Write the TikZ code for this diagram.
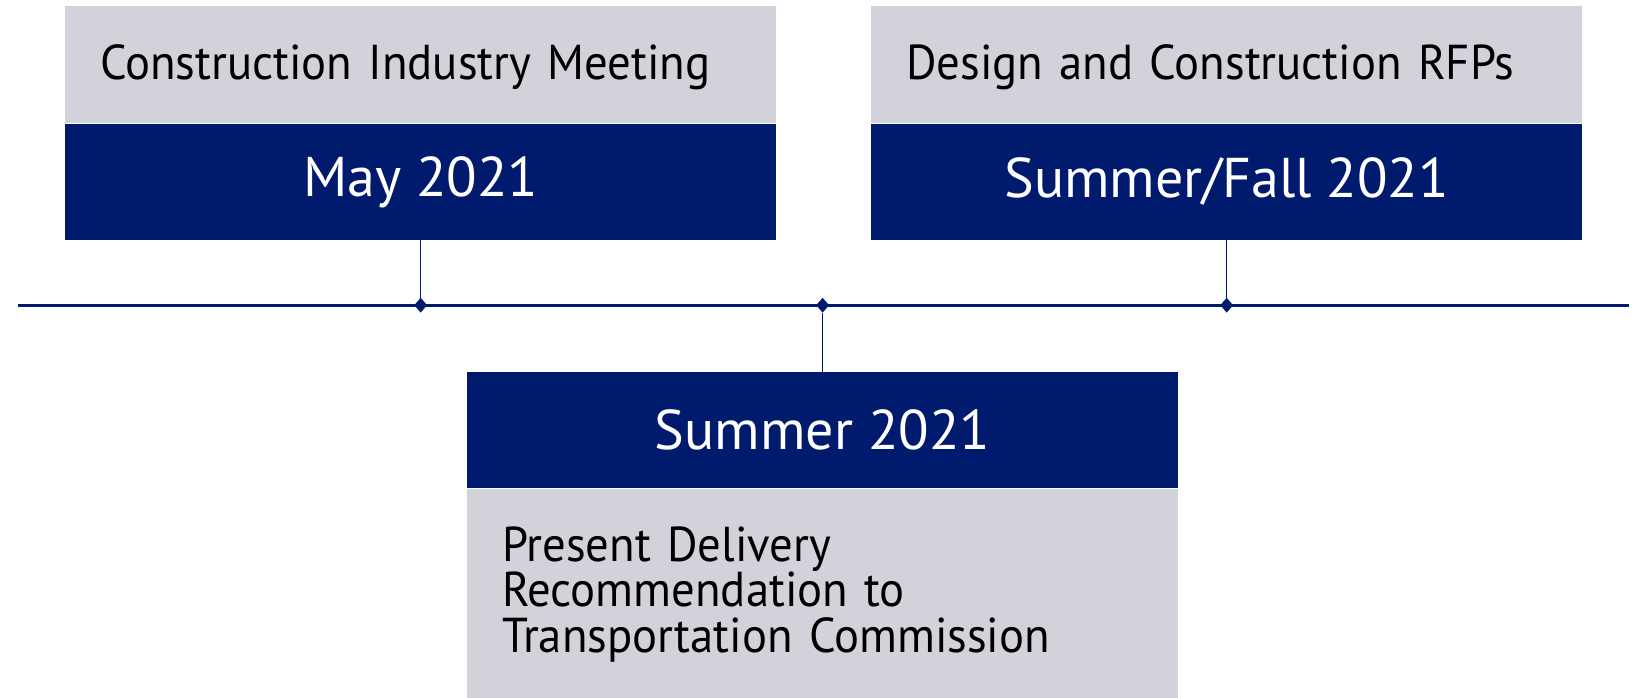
\documentclass[tikz,border=0pt]{standalone}
\usepackage{fontspec}
\setmainfont{PT Sans}
\newfontfamily\topicfont[FakeStretch=0.953]{PT Sans}
\usepackage{tikz}
\usetikzlibrary{positioning}
\usetikzlibrary{shapes.geometric}
\definecolor{navy}{RGB}{0,27,110}
\definecolor{lightgrey}{RGB}{209,210,218}
\tikzset{
	topic/.style={rectangle, fill=lightgrey, minimum width=711, minimum height=117, inner xsep=35, inner ysep=0, text width=641, align=left, font=\topicfont\fontsize{49}{45.5}\selectfont},
	headline/.style={topic, text depth=6},
	datebox/.style={rectangle, fill=navy, text=white, minimum width=711, minimum height=116, inner sep=0, font=\fontsize{56}{60}\selectfont},
	milestone/.style={diamond, fill=navy, inner sep=0, minimum width=13, minimum height=15},
	timeline/.style={navy, line width=2.8},
	tick/.style={navy, line width=1.3}
}

\begin{document}
\begin{tikzpicture}[x=1pt, y=-1pt]
			\useasboundingbox (0,0) rectangle (1639,698);
			\node[headline, anchor=north west] (meeting) at (65,6.3) {Construction Industry Meeting};
			\node[datebox, below=0pt of meeting] (may) {May 2021};
			\node[headline, anchor=north west] (rfps) at (871,6.3) {Design and Construction RFPs};
			\node[datebox, below=0pt of rfps] (fall) {Summer/Fall 2021};
			\node[datebox, anchor=north] (summer) at (822.6,372) {Summer 2021};
			\node[topic, below=0pt of summer, minimum height=211] (present) {Present Delivery\\Recommendation to\\Transportation Commission};
			\coordinate (lineL) at (17.8,305.2);
			\coordinate (lineR) at (1628.6,305.2);
			\draw[timeline] (lineL) -- (lineR);
			\node[milestone] (mayMark) at (may.south |- lineL) {};
			\node[milestone] (summerMark) at (summer.north |- lineL) {};
			\node[milestone] (fallMark) at (fall.south |- lineL) {};
			\draw[tick] (may.south) -- (mayMark);
			\draw[tick] (fall.south) -- (fallMark);
			\draw[tick] (summerMark) -- (summer.north);
		\end{tikzpicture}
\end{document}
